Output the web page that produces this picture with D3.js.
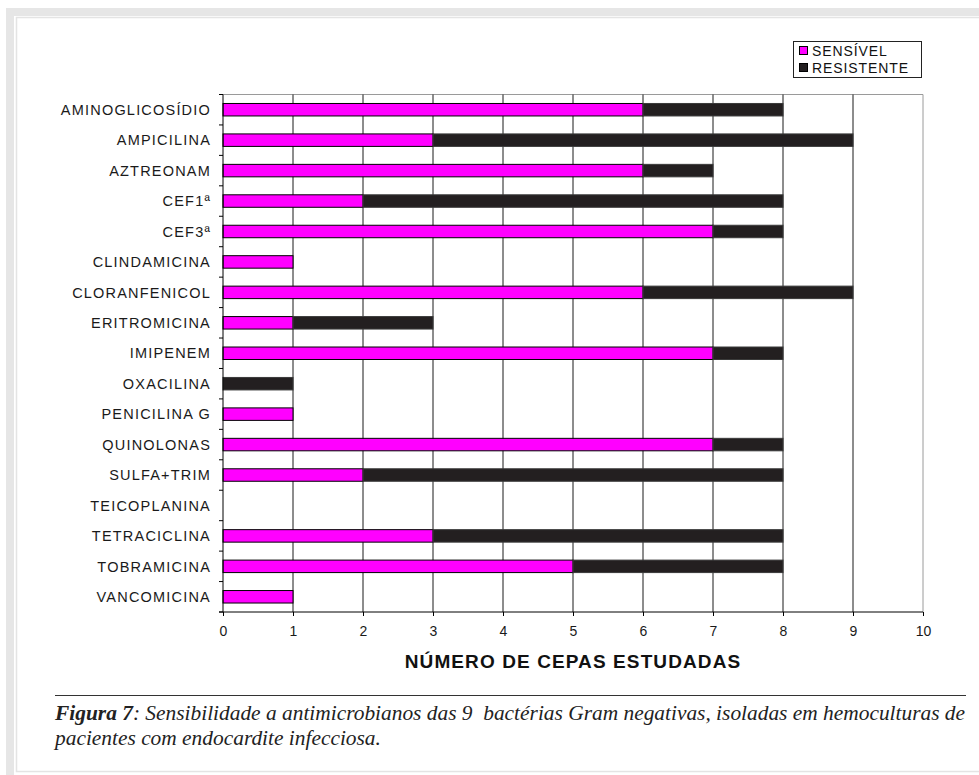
<!DOCTYPE html>
<html>
<head>
<meta charset="utf-8">
<script src="https://cdn.jsdelivr.net/npm/d3@7/dist/d3.min.js"></script>
<style>
  html, body { margin: 0; padding: 0; background: #fff; }
  svg { display: block; }
  .caption { white-space: pre; }
</style>
</head>
<body>
<svg id="chart" width="979" height="775"></svg>
<script>
// Antimicrobial susceptibility counts per drug
const categories = [
  "AMINOGLICOSÍDIO", "AMPICILINA", "AZTREONAM", "CEF1ª", "CEF3ª",
  "CLINDAMICINA", "CLORANFENICOL", "ERITROMICINA", "IMIPENEM", "OXACILINA",
  "PENICILINA G", "QUINOLONAS", "SULFA+TRIM", "TEICOPLANINA", "TETRACICLINA",
  "TOBRAMICINA", "VANCOMICINA"
];
const sensivel   = [6, 3, 6, 2, 7, 1, 6, 1, 7, 0, 1, 7, 2, 0, 3, 5, 1];
const resistente = [2, 6, 1, 6, 1, 0, 3, 2, 1, 1, 0, 1, 6, 0, 5, 3, 0];
const seriesNames = ["SENSÍVEL", "RESISTENTE"];
const xTicks = [0, 1, 2, 3, 4, 5, 6, 7, 8, 9, 10];
const xTitle = "NÚMERO DE CEPAS ESTUDADAS";
const captionBold = "Figura 7";
const captionLine1 = ": Sensibilidade a antimicrobianos das 9  bactérias Gram negativas, isoladas em hemoculturas de";
const captionLine2 = "pacientes com endocardite infecciosa.";

const colors = { "SENSÍVEL": "#ff00ff", "RESISTENTE": "#231f20" };

const svg = d3.select("#chart");

// page frame
svg.append("rect").attr("x", 10).attr("y", 12).attr("width", 990).attr("height", 780)
  .attr("fill", "none").attr("stroke", "#e6e6e6").attr("stroke-width", 8);
svg.append("rect").attr("x", 16.5).attr("y", 17.5).attr("width", 990).attr("height", 754)
  .attr("fill", "none").attr("stroke", "#e4e4e4").attr("stroke-width", 1.5);

const plot = { left: 223, right: 923, top: 94.5, bottom: 612 };

const x = d3.scaleLinear().domain([0, 10]).range([plot.left, plot.right]);
const y = d3.scaleBand().domain(categories).range([plot.top, plot.bottom])
  .paddingInner(0.59).paddingOuter(0.295);
const step = y.step();

const rows = categories.map((c, i) => ({ cat: c, s: sensivel[i], r: resistente[i] }));
const stacked = d3.stack().keys(["s", "r"])(rows);

// plot border (top/right)
svg.append("path")
  .attr("d", `M${plot.left},${plot.top}H${plot.right}V${plot.bottom}`)
  .attr("fill", "none").attr("stroke", "#9a9a9a").attr("stroke-width", 1);

// vertical gridlines
svg.append("g").selectAll("line").data(xTicks.filter(d => d > 0 && d < 10)).join("line")
  .attr("x1", d => x(d)).attr("x2", d => x(d))
  .attr("y1", plot.top).attr("y2", plot.bottom)
  .attr("stroke", "#1a1a1a").attr("stroke-width", 1);

// bars
const keyNames = { s: "SENSÍVEL", r: "RESISTENTE" };
stacked.forEach(layer => {
  svg.append("g").selectAll("rect").data(layer.filter(d => d[1] - d[0] > 0)).join("rect")
    .attr("x", d => x(d[0]))
    .attr("width", d => x(d[1]) - x(d[0]))
    .attr("y", d => y(d.data.cat))
    .attr("height", y.bandwidth())
    .attr("fill", colors[keyNames[layer.key]])
    .attr("stroke", layer.key === "s" ? "#000" : "#3a3a3a")
    .attr("stroke-width", 1);
});

// y axis
const yAxisG = svg.append("g");
yAxisG.append("line").attr("x1", plot.left).attr("x2", plot.left)
  .attr("y1", plot.top).attr("y2", plot.bottom).attr("stroke", "#000");
yAxisG.selectAll("line.tk").data(d3.range(categories.length + 1)).join("line")
  .attr("class", "tk")
  .attr("x1", plot.left - 4).attr("x2", plot.left)
  .attr("y1", i => plot.top + i * step).attr("y2", i => plot.top + i * step)
  .attr("stroke", "#000");
yAxisG.selectAll("text").data(categories).join("text")
  .attr("x", 211).attr("y", d => y(d) + y.bandwidth() / 2)
  .attr("dy", "0.36em")
  .attr("text-anchor", "end")
  .attr("font-family", "Liberation Sans, Arial, sans-serif")
  .attr("font-size", 14.5)
  .attr("letter-spacing", 1.2)
  .attr("fill", "#1a1a1a")
  .text(d => d);

// x axis
const xAxis = d3.axisBottom(x).tickValues(xTicks).tickSize(4).tickPadding(10)
  .tickFormat(d3.format("d"));
const xg = svg.append("g").attr("transform", `translate(0,${plot.bottom})`).call(xAxis);
xg.select(".domain").attr("d", `M${plot.left - 4},0H${plot.right}`).attr("stroke", "#000");
xg.selectAll(".tick line").attr("stroke", "#000");
xg.selectAll(".tick text")
  .attr("font-family", "Liberation Sans, Arial, sans-serif")
  .attr("font-size", 14).attr("fill", "#1a1a1a");

svg.append("text")
  .attr("x", (x(0) + x(10)) / 2).attr("y", 668)
  .attr("text-anchor", "middle")
  .attr("font-family", "Liberation Sans, Arial, sans-serif")
  .attr("font-weight", "bold").attr("font-size", 19).attr("letter-spacing", 1.1)
  .attr("fill", "#111")
  .text(xTitle);

// legend
const lg = svg.append("g");
lg.append("rect").attr("x", 793.5).attr("y", 41.5).attr("width", 128).attr("height", 36)
  .attr("fill", "#fff").attr("stroke", "#222").attr("stroke-width", 1);
seriesNames.forEach((name, i) => {
  const cy = 51 + i * 17;
  lg.append("rect").attr("x", 799.5).attr("y", cy - 4.5).attr("width", 8).attr("height", 8)
    .attr("fill", colors[name]).attr("stroke", "#000");
  lg.append("text").attr("x", 812).attr("y", cy).attr("dy", "0.36em")
    .attr("font-family", "Liberation Sans, Arial, sans-serif")
    .attr("font-size", 14).attr("letter-spacing", 0.9).attr("fill", "#111")
    .text(name);
});

// caption
svg.append("line").attr("x1", 55).attr("x2", 966).attr("y1", 695.5).attr("y2", 695.5)
  .attr("stroke", "#333").attr("stroke-width", 1);
const cap = svg.append("text")
  .attr("class", "caption")
  .attr("x", 55).attr("y", 720)
  .attr("font-family", "Liberation Serif, Times New Roman, serif")
  .attr("font-style", "italic").attr("font-size", 21.4).attr("fill", "#222");
cap.append("tspan").attr("font-weight", "bold").text(captionBold);
cap.append("tspan").text(captionLine1);
svg.append("text")
  .attr("class", "caption")
  .attr("x", 55).attr("y", 745)
  .attr("font-family", "Liberation Serif, Times New Roman, serif")
  .attr("font-style", "italic").attr("font-size", 21.4).attr("fill", "#222")
  .text(captionLine2);
</script>
</body>
</html>
